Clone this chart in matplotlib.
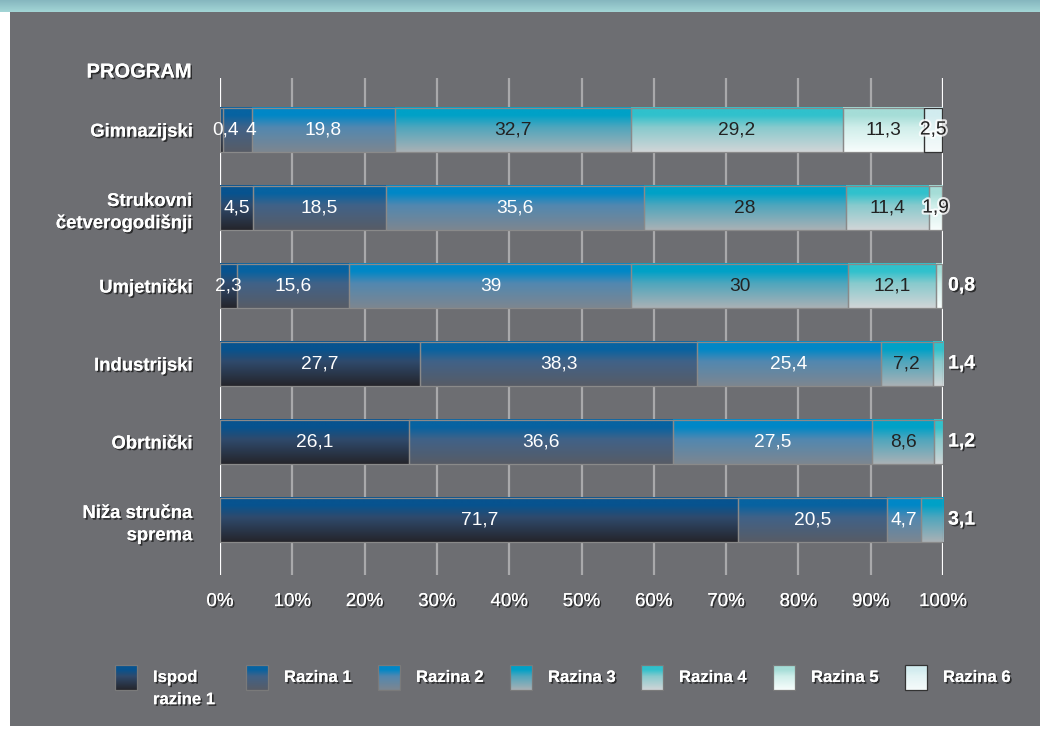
import matplotlib
matplotlib.use('Agg')
import matplotlib.pyplot as plt
import matplotlib.patheffects as pe
from matplotlib.colors import LinearSegmentedColormap
from matplotlib.patches import Rectangle
import numpy as np

programs = ['Gimnazijski', 'Strukovni\nčetverogodišnji', 'Umjetnički',
            'Industrijski', 'Obrtnički', 'Niža stručna\nsprema']
levels = ['Ispod\nrazine 1', 'Razina 1', 'Razina 2', 'Razina 3',
          'Razina 4', 'Razina 5', 'Razina 6']

ispod = [0.4, 4.5, 2.3, 27.7, 26.1, 71.7]
razina1 = [4, 18.5, 15.6, 38.3, 36.6, 20.5]
razina2 = [19.8, 35.6, 39, 25.4, 27.5, 4.7]
razina3 = [32.7, 28, 30, 7.2, 8.6, 3.1]
razina4 = [29.2, 11.4, 12.1, 1.4, 1.2, 0]
razina5 = [11.3, 1.9, 0.8, 0, 0, 0]
razina6 = [2.5, 0, 0, 0, 0, 0]
series = [ispod, razina1, razina2, razina3, razina4, razina5, razina6]

# last-segment label drawn outside the bar (right of 100%)
outside_last = [False, False, True, True, True, True]
# small nudges (in %) for crowded labels: (row, level) -> shift
label_shift = {(0, 0): 0.5, (0, 1): 1.8}

# gradient colours per level: top, middle, bottom
grads = [('#07538f', '#2f4a6c', '#25252b'),
         ('#0763a1', '#406288', '#585c66'),
         ('#0087c7', '#5288b0', '#7d8690'),
         ('#00a1c7', '#4fa6bd', '#aab1b5'),
         ('#30c1cc', '#88cacd', '#d1d5d7'),
         ('#a5ddd7', '#cfeeea', '#f8fdfc'),
         ('#d2ecef', '#e3f3f4', '#f6fbfb')]
text_col = ['white', 'white', 'white', '#222222', '#222222', '#222222', '#222222']

BG = '#6d6e72'
narrow = ['Liberation Sans Narrow', 'Liberation Sans', 'DejaVu Sans']
plt.rcParams['font.family'] = ['Liberation Sans', 'DejaVu Sans']

shadow = [pe.withSimplePatchShadow(offset=(1.2, -1.2), shadow_rgbFace='black', alpha=0.6), pe.Normal()]

fig = plt.figure(figsize=(10.4, 7.29), dpi=100, facecolor='white')

# background panel
bg = fig.add_axes([0, 0, 1, 1], zorder=-1)
bg.axis('off')
bg.add_patch(Rectangle((10, 11), 1030, 715, facecolor=BG, edgecolor='none', zorder=0))
strip = LinearSegmentedColormap.from_list('strip', ['#86b6bf', '#a3d6d6'])
bg.imshow(np.linspace(0, 1, 50).reshape(-1, 1), cmap=strip, extent=[0, 1040, 12, 0],
          aspect='auto', origin='upper', zorder=1)

ax = fig.add_axes([220 / 1040, 154 / 729, 723 / 1040, 497 / 729])
ax.set_facecolor('none')
ypos = np.arange(len(programs))[::-1].astype(float)
grad = np.linspace(0, 1, 100).reshape(-1, 1)
lefts = np.zeros(len(programs))


def level_cmap(i):
    top, mid, bot = grads[i]
    return LinearSegmentedColormap.from_list('l%d' % i, [(0, bot), (0.55, mid), (0.82, top), (1, top)])


for i, vals in enumerate(series):
    cmap = level_cmap(i)
    edge = '#333333' if i == 6 else '#8a8a8a'
    bars = ax.barh(ypos, vals, left=lefts, height=0.57, color='none',
                   edgecolor=edge, linewidth=0.9, zorder=3)
    for r, (b, v) in enumerate(zip(bars, vals)):
        if v == 0:
            b.set_visible(False)
            continue
        x0, y0, w, h = b.get_x(), b.get_y(), b.get_width(), b.get_height()
        ax.imshow(grad, cmap=cmap, extent=[x0, x0 + w, y0, y0 + h], origin='lower',
                  aspect='auto', zorder=2, interpolation='bilinear')
        label = ('%g' % v).replace('.', ',')
        is_last = all(s[r] == 0 for s in series[i + 1:])
        if is_last and outside_last[r]:
            ax.text(100.7, ypos[r], label, ha='left', va='center', color='white',
                    fontsize=14, fontweight='bold', path_effects=shadow, zorder=5)
        else:
            effects = None
            if text_col[i] != 'white' and v < 3:
                effects = [pe.withStroke(linewidth=3, foreground='white', alpha=0.8)]
            ax.text(x0 + w / 2 + label_shift.get((r, i), 0), ypos[r], label,
                    ha='center', va='center', color=text_col[i], fontsize=13.8,
                    path_effects=effects, zorder=5)
    lefts = lefts + np.array(vals)

ax.set_xlim(0, 100)
ax.set_ylim(-0.705, 5.667)
ax.set_xticks(np.arange(0, 101, 10))
ax.set_xticklabels(['%d%%' % t for t in range(0, 101, 10)], family=narrow,
                   fontsize=13.5, color='white')
for t in ax.get_xticklabels():
    t.set_path_effects(shadow)
ax.set_yticks(ypos)
ax.set_yticklabels(programs, fontsize=13.3, fontweight='bold', color='white', linespacing=1.4)
for t in ax.get_yticklabels():
    t.set_path_effects(shadow)
ax.tick_params(length=0)
ax.tick_params(axis='x', pad=13)
ax.tick_params(axis='y', pad=20)
for s in ax.spines.values():
    s.set_visible(False)
for t in range(10, 100, 10):
    ax.axvline(t, color='#a9a9ab', lw=1.6, zorder=0)
ax.axvline(0, color='white', lw=1.6, zorder=1)
ax.axvline(100, color='white', lw=1.6, zorder=1)

fig.text(192 / 1040, 1 - 72 / 729, 'PROGRAM', ha='right', va='center', color='white',
         fontsize=14.5, fontweight='bold', path_effects=shadow)

# legend
hx = [115, 246, 378, 510, 641, 773, 905]
for i, name in enumerate(levels):
    bg.imshow(grad, cmap=level_cmap(i), extent=[hx[i], hx[i] + 22, 690, 665], origin='lower',
              aspect='auto', interpolation='bilinear', zorder=2)
    bg.add_patch(Rectangle((hx[i], 665), 22, 25, facecolor='none',
                           edgecolor='#333333' if i == 6 else '#7a7a7a', lw=0.9, zorder=3))
    bg.text(hx[i] + 38, 670, name, ha='left', va='top', color='white', fontsize=12,
            fontweight='bold', family=narrow, linespacing=1.6, path_effects=shadow, zorder=4)
bg.set_xlim(0, 1040)
bg.set_ylim(729, 0)

fig.savefig('out.png', dpi=100, facecolor='white')
